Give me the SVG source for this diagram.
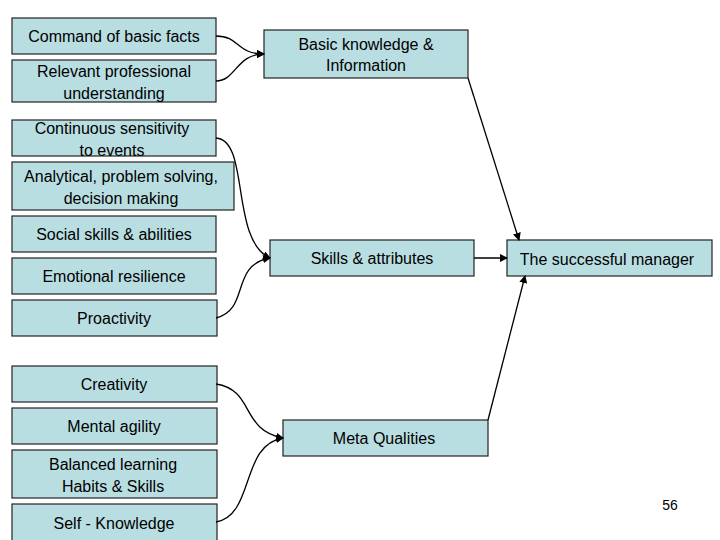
<svg xmlns="http://www.w3.org/2000/svg" width="720" height="540" viewBox="0 0 720 540">
<style>
.b{fill:#b9dee2;stroke:#222;stroke-width:1.2}
text{font-family:"Liberation Sans",Arial,sans-serif;font-size:16px;fill:#000;text-anchor:middle}
.c{fill:none;stroke:#000;stroke-width:1.3}
</style>
<defs><marker id="a" markerWidth="8" markerHeight="8" refX="7" refY="4" orient="auto" markerUnits="userSpaceOnUse"><path d="M0,0L8,4L0,8z" fill="#000"/></marker></defs>
<rect width="720" height="540" fill="#fff"/>
<g id="n1"><rect class="b" x="12" y="18" width="204" height="36"/><text x="114" y="42">Command of basic facts</text></g>
<g id="n2"><rect class="b" x="12" y="60" width="204" height="42"/><text x="114" y="77">Relevant professional</text><text x="114" y="99">understanding</text></g>
<g id="n3"><rect class="b" x="264" y="30" width="204" height="48"/><text x="366" y="50">Basic knowledge &amp;</text><text x="366" y="71">Information</text></g>
<g id="n4"><rect class="b" x="12" y="120" width="204" height="36"/><text x="112" y="134">Continuous sensitivity</text><text x="112" y="156">to events</text></g>
<g id="n5"><rect class="b" x="12" y="162" width="222" height="48"/><text x="121" y="182">Analytical, problem solving,</text><text x="121" y="204">decision making</text></g>
<g id="n6"><rect class="b" x="12" y="216" width="204" height="36"/><text x="114" y="240">Social skills &amp; abilities</text></g>
<g id="n7"><rect class="b" x="12" y="258" width="204" height="36"/><text x="114" y="282">Emotional resilience</text></g>
<g id="n8"><rect class="b" x="12" y="300" width="205" height="36"/><text x="114" y="324">Proactivity</text></g>
<g id="n9"><rect class="b" x="270" y="240" width="204" height="36"/><text x="372" y="264">Skills &amp; attributes</text></g>
<g id="n10"><rect class="b" x="507" y="240" width="205" height="36"/><text x="607" y="265">The successful manager</text></g>
<g id="n11"><rect class="b" x="12" y="366" width="205" height="36"/><text x="114" y="390">Creativity</text></g>
<g id="n12"><rect class="b" x="12" y="408" width="205" height="36"/><text x="114" y="432">Mental agility</text></g>
<g id="n13"><rect class="b" x="12" y="450" width="205" height="48"/><text x="113" y="470">Balanced learning</text><text x="113" y="492">Habits &amp; Skills</text></g>
<g id="n14"><rect class="b" x="12" y="504" width="205" height="40"/><text x="114" y="529">Self - Knowledge</text></g>
<g id="n15"><rect class="b" x="283" y="420" width="205" height="36"/><text x="384" y="444">Meta Qualities</text></g>
<text x="670" y="510" style="font-size:14px">56</text>
<g id="connectors">
<path class="c" d="M216,36C240,36 236,54 264,54" marker-end="url(#a)"/>
<path class="c" d="M216,81C236,81 236,54 264,54" marker-end="url(#a)"/>
<path class="c" d="M216,138C250,140 230,240 270,258" marker-end="url(#a)"/>
<path class="c" d="M216,318C250,310 230,265 270,258" marker-end="url(#a)"/>
<path class="c" d="M216,384C255,390 240,430 283,438" marker-end="url(#a)"/>
<path class="c" d="M216,522C255,515 240,445 283,438" marker-end="url(#a)"/>
<path class="c" d="M468,78L519,240" marker-end="url(#a)"/>
<path class="c" d="M488,420L525,276" marker-end="url(#a)"/>
<path class="c" d="M474,258L507,258" marker-end="url(#a)"/>
</g>
</svg>
